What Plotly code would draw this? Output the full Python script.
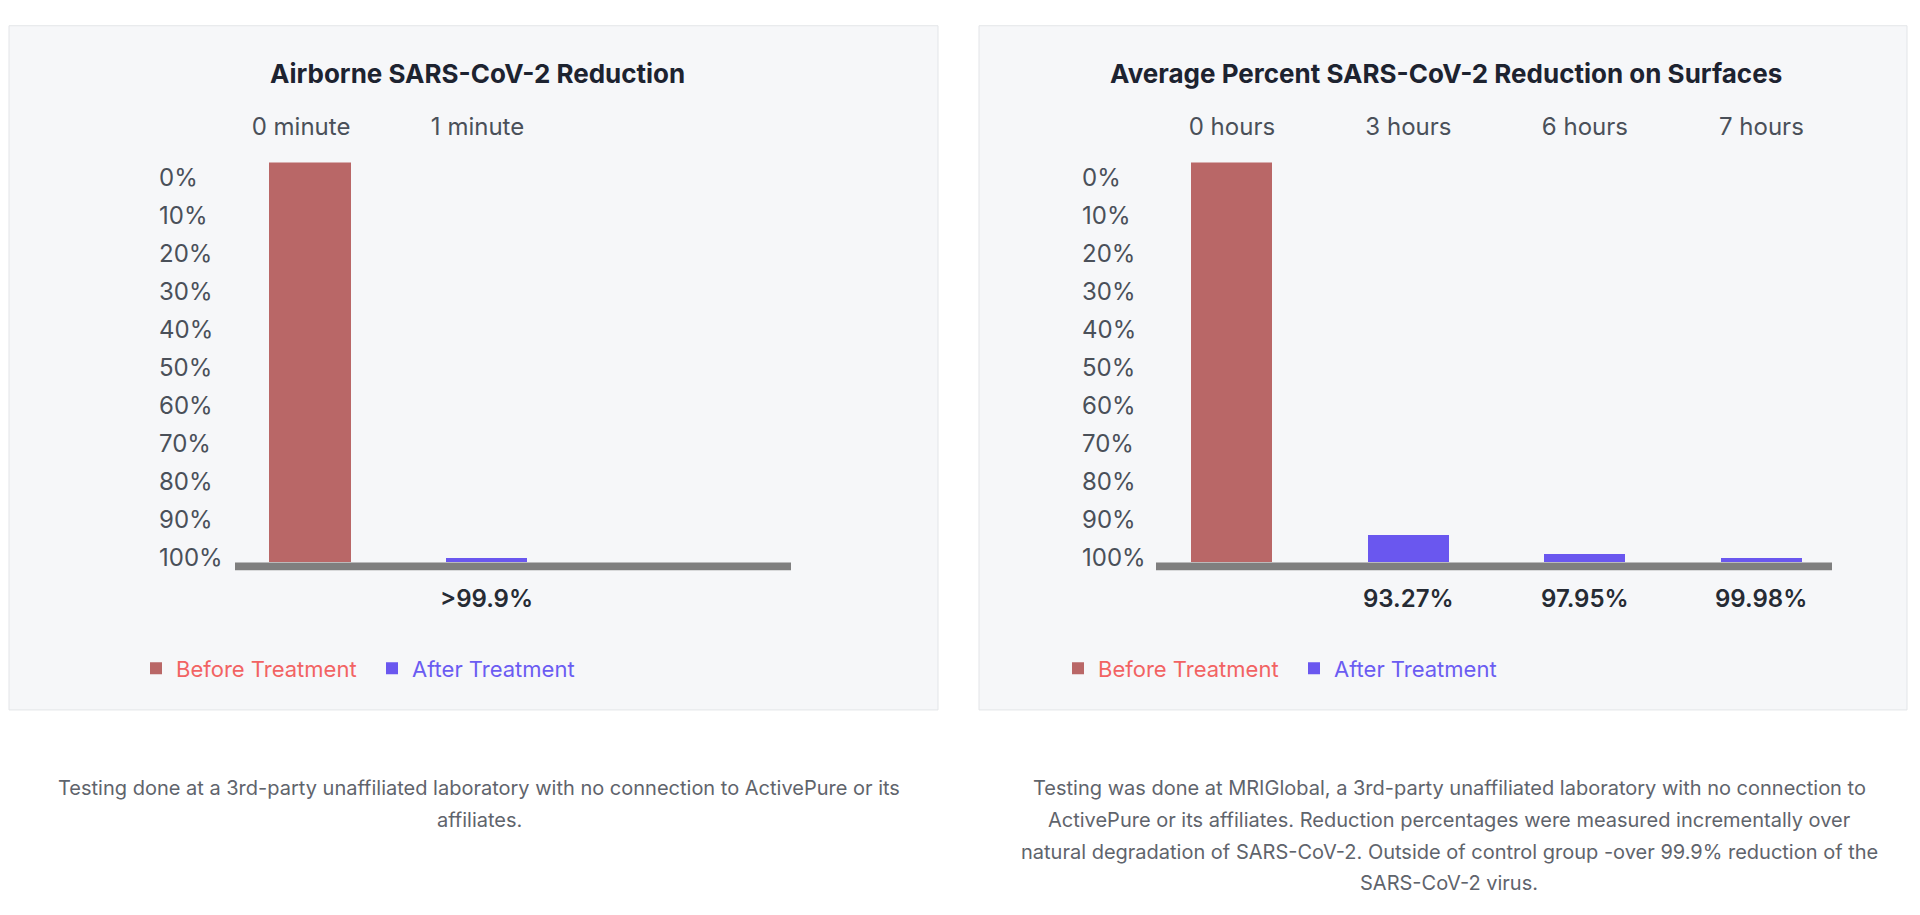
import plotly.graph_objects as go

# chart data
air_times = ["0 minute", "1 minute"]
air_before = [0, None]          # % reduction, control group
air_after = [None, 99.9]        # % reduction after treatment
air_labels = ["", ">99.9%"]

surf_times = ["0 hours", "3 hours", "6 hours", "7 hours"]
surf_before = [0, None, None, None]
surf_after = [None, 93.27, 97.95, 99.98]
surf_labels = ["", "93.27%", "97.95%", "99.98%"]

tick_text = [f"{k}%" for k in range(0, 101, 10)]

air_title = "Airborne SARS-CoV-2 Reduction"
surf_title = "Average Percent SARS-CoV-2 Reduction on Surfaces"

air_note = [
    "Testing done at a 3rd-party unaffiliated laboratory with no connection to ActivePure or its",
    "affiliates.",
]
surf_note = [
    "Testing was done at MRIGlobal, a 3rd-party unaffiliated laboratory with no connection to",
    "ActivePure or its affiliates. Reduction percentages were measured incrementally over",
    "natural degradation of SARS-CoV-2. Outside of control group -over 99.9% reduction of the",
    "SARS-CoV-2 virus.",
]

W, H = 1920, 915
FONT = "Inter"
RED = "#b96767"
BLUE = "#6a57ef"
RED_TXT = "#f26363"
BLUE_TXT = "#6b5cf2"
LABEL = "#4a5059"
MIN_H = 1.1  # smallest visible bar (in % units) so 99.9% still shows

TOP, BASE = 164, 568   # pixel rows of 0% and 100% bar ends


def fx(p):
    return p / W


def fy(p):
    return 1 - p / H


def heights(vals):
    # bars hang from the 100% baseline up to the reduction value
    out = []
    for v in vals:
        if v is None:
            out.append(None)
        else:
            out.append(-max(100 - v, MIN_H))
    return out


fig = go.Figure()

panels = [
    dict(times=air_times, before=air_before, after=air_after, labels=air_labels,
         title=air_title, note=air_note, xa="x", ya="y", legend="legend",
         box=(9, 938), dom=(235, 791), rng=(-0.425, 2.725), ylab=158, mid=477, note_x=479),
    dict(times=surf_times, before=surf_before, after=surf_after, labels=surf_labels,
         title=surf_title, note=surf_note, xa="x2", ya="y2", legend="legend2",
         box=(979, 1907), dom=(1156, 1832), rng=(-0.43, 3.40), ylab=1081, mid=1446, note_x=1449),
]

shapes = []
annotations = []

for p in panels:
    fig.add_trace(go.Bar(
        x=p["times"], y=heights(p["before"]), base=100,
        name=f"<span style='color:{RED_TXT}'>Before Treatment</span>",
        marker=dict(color=RED, line=dict(width=0)), width=0.46,
        xaxis=p["xa"], yaxis=p["ya"], legend=p["legend"],
    ))
    fig.add_trace(go.Bar(
        x=p["times"], y=heights(p["after"]), base=100,
        name=f"<span style='color:{BLUE_TXT}'>After Treatment</span>",
        marker=dict(color=BLUE, line=dict(width=0)), width=0.46,
        xaxis=p["xa"], yaxis=p["ya"], legend=p["legend"],
    ))

    # panel card
    shapes.append(dict(type="rect", xref="paper", yref="paper", layer="below",
                       x0=fx(p["box"][0]), x1=fx(p["box"][1]), y0=fy(717), y1=fy(26),
                       fillcolor="#f6f7f9", line=dict(color="#e3e5e8", width=1)))
    # thick grey baseline
    shapes.append(dict(type="rect", xref=p["xa"] + " domain", yref="paper", layer="above",
                       x0=0, x1=1, y0=fy(BASE + 8), y1=fy(BASE),
                       fillcolor="#7f7f7f", line=dict(width=0)))

    annotations.append(dict(text=f"<b>{p['title']}</b>", xref="paper", yref="paper",
                            x=fx(p["mid"]), y=fy(74), xanchor="center", yanchor="middle",
                            showarrow=False,
                            font=dict(family=FONT, size=26, color="#1d2330")))
    for cat, lab in zip(p["times"], p["labels"]):
        if lab:
            annotations.append(dict(text=lab, xref=p["xa"], yref="paper", x=cat, y=fy(604),
                                    xanchor="center", yanchor="middle", showarrow=False,
                                    font=dict(family=FONT, size=24, color="#262b34", weight=600)))
    for j, line in enumerate(p["note"]):
        annotations.append(dict(text=line, xref="paper", yref="paper",
                                x=fx(p["note_x"]), y=fy(796 + 32 * j),
                                xanchor="center", yanchor="middle", showarrow=False,
                                font=dict(family=FONT, size=20, color="#5f646c")))

xaxis_common = dict(type="category", side="top", anchor="free", position=fy(141),
                    showgrid=False, zeroline=False, showline=False, ticks="",
                    tickfont=dict(family=FONT, size=24, color=LABEL), fixedrange=True)
yaxis_common = dict(range=[100, 0], domain=[fy(BASE), fy(TOP)],
                    tickvals=[3.7 + 9.5 * k for k in range(11)], ticktext=tick_text,
                    side="right", anchor="free", showgrid=False, zeroline=False,
                    showline=False, ticks="",
                    tickfont=dict(family=FONT, size=24, color=LABEL), fixedrange=True)
legend_common = dict(orientation="h", xanchor="left", yanchor="middle", y=fy(675),
                     bgcolor="rgba(0,0,0,0)", font=dict(family=FONT, size=22),
                     entrywidth=191, entrywidthmode="pixels", traceorder="normal")

fig.update_layout(
    width=W, height=H,
    margin=dict(l=0, r=0, t=0, b=0),
    paper_bgcolor="white", plot_bgcolor="rgba(0,0,0,0)",
    barmode="overlay", bargap=0,
    showlegend=True,
    xaxis=dict(xaxis_common, domain=[fx(panels[0]["dom"][0]), fx(panels[0]["dom"][1])],
               range=list(panels[0]["rng"]), ticklabelshift=-9),
    xaxis2=dict(xaxis_common, domain=[fx(panels[1]["dom"][0]), fx(panels[1]["dom"][1])],
                range=list(panels[1]["rng"])),
    yaxis=dict(yaxis_common, position=fx(panels[0]["ylab"])),
    yaxis2=dict(yaxis_common, position=fx(panels[1]["ylab"])),
    legend=dict(legend_common, x=fx(136)),
    legend2=dict(legend_common, x=fx(1058)),
    shapes=shapes,
    annotations=annotations,
)

# drop the default page margin so the 1920x915 figure fills the window exactly
fig.write_html(
    "out.html",
    config={"displayModeBar": False},
    post_script="document.body.style.margin='0';document.body.style.overflow='hidden';"
                "document.getElementById('{plot_id}').style.display='block';",
)
